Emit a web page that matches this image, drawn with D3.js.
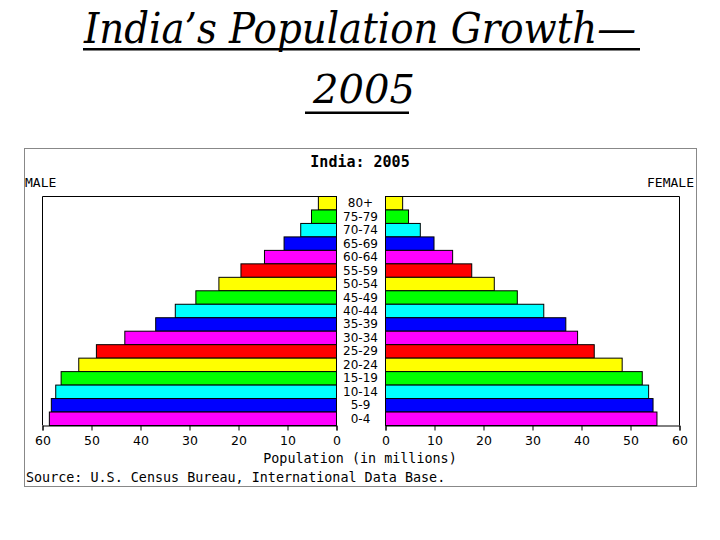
<!DOCTYPE html>
<html><head><meta charset="utf-8">
<script src="https://cdn.jsdelivr.net/npm/d3@7"></script>
<style>body{margin:0;background:#fff;}svg{display:block;}</style>
</head><body>
<script>
const ageGroups = ["80+","75-79","70-74","65-69","60-64","55-59","50-54","45-49","40-44","35-39","30-34","25-29","20-24","15-19","10-14","5-9","0-4"];
const maleValues = [3.7,5.1,7.3,10.7,14.7,19.5,24.0,28.7,32.9,36.9,43.2,49.0,52.6,56.2,57.3,58.2,58.6];
const femaleValues = [3.5,4.7,7.1,9.9,13.7,17.6,22.2,26.9,32.3,36.8,39.2,42.6,48.3,52.4,53.7,54.6,55.4];
// colour cycle counted from the youngest group (0-4) upward
const barColors = ["#ff00ff","#0000ff","#00ffff","#00ff00","#ffff00","#ff0000"];
const tickValues = [0,10,20,30,40,50,60];

const W = 720, H = 540;
const svg = d3.select("body").append("svg").attr("width", W).attr("height", H);

// Title
const title = svg.append("g").attr("font-family", "'DejaVu Serif', serif").attr("font-style","italic").attr("fill","#000");
title.append("text").attr("x", 84).attr("y", 43).attr("font-size", 42)
  .attr("textLength", 552).attr("lengthAdjust","spacingAndGlyphs").text("India\u2019s Population Growth\u2014");
title.append("rect").attr("x", 83).attr("y", 48).attr("width", 557).attr("height", 2.5);
title.append("text").attr("x", 313).attr("y", 103).attr("font-size", 40)
  .attr("textLength", 102).attr("lengthAdjust","spacingAndGlyphs").text("2005");
title.append("rect").attr("x", 305).attr("y", 111.5).attr("width", 104).attr("height", 2.5);

// Outer frame
svg.append("rect").attr("x", 24.5).attr("y", 148.5).attr("width", 672).attr("height", 338)
  .attr("fill","none").attr("stroke","#888").attr("stroke-width",1);

const plotTop = 196, plotBottom = 425;
const y = d3.scaleBand().domain(ageGroups).range([plotTop, plotBottom]).padding(0);
const xL = d3.scaleLinear().domain([0,60]).range([336, 42]);
const xR = d3.scaleLinear().domain([0,60]).range([385, 679]);

// plot frames
[[xL(60), xL(0)], [xR(0), xR(60)]].forEach(([a,b]) => {
  svg.append("path").attr("d", `M${a+0.5},${plotBottom+0.5}V${plotTop+0.5}H${b+0.5}V${plotBottom+0.5}`)
    .attr("fill","none").attr("stroke","#000").attr("stroke-width",1);
});

const col = i => barColors[(ageGroups.length - 1 - i) % barColors.length];

svg.append("g").selectAll("rect").data(maleValues).join("rect")
  .attr("x", d => xL(d) + 0.5).attr("y", (d,i) => y(ageGroups[i]) + 0.5)
  .attr("width", d => xL(0) - xL(d)).attr("height", y.bandwidth())
  .attr("fill", (d,i) => col(i)).attr("stroke","#000").attr("stroke-width",1);
svg.append("g").selectAll("rect").data(femaleValues).join("rect")
  .attr("x", xR(0) + 0.5).attr("y", (d,i) => y(ageGroups[i]) + 0.5)
  .attr("width", d => xR(d) - xR(0)).attr("height", y.bandwidth())
  .attr("fill", (d,i) => col(i)).attr("stroke","#000").attr("stroke-width",1);

// age labels
svg.append("g").selectAll("text").data(ageGroups).join("text")
  .attr("x", 360.5).attr("y", d => y(d) + y.bandwidth()/2 + 4.5)
  .attr("text-anchor","middle").attr("font-family","'DejaVu Sans', sans-serif").attr("font-size", 12)
  .attr("fill","#000").text(d => d);

// axes
function styleAxis(g){
  g.select(".domain").attr("stroke","#000");
  g.selectAll(".tick line").attr("stroke","#000");
  g.selectAll(".tick text").attr("font-family","'DejaVu Sans', sans-serif").attr("font-size",12.5).attr("fill","#000").attr("dy","0.9em");
}
svg.append("g").attr("transform", `translate(0.5,${plotBottom+0.5})`)
  .call(d3.axisBottom(xL).tickValues(tickValues).tickFormat(d3.format("d")).tickSizeOuter(0).tickSize(5)).call(styleAxis);
svg.append("g").attr("transform", `translate(0.5,${plotBottom+0.5})`)
  .call(d3.axisBottom(xR).tickValues(tickValues).tickFormat(d3.format("d")).tickSizeOuter(0).tickSize(5)).call(styleAxis);

// texts
const mono = "'DejaVu Sans Mono', monospace";
svg.append("text").attr("x", 360).attr("y", 167).attr("text-anchor","middle").attr("font-family",mono)
  .attr("font-weight","bold").attr("font-size",15).text("India: 2005");
svg.append("text").attr("x", 25).attr("y", 187).attr("font-family",mono).attr("font-size",13).text("MALE");
svg.append("text").attr("x", 694).attr("y", 187).attr("text-anchor","end").attr("font-family",mono).attr("font-size",13).text("FEMALE");
svg.append("text").attr("x", 360).attr("y", 463).attr("text-anchor","middle").attr("font-family",mono).attr("font-size",13.4).text("Population (in millions)");
svg.append("text").attr("x", 26).attr("y", 482).attr("font-family",mono).attr("font-size",13.4).text("Source: U.S. Census Bureau, International Data Base.");
</script>
</body></html>
